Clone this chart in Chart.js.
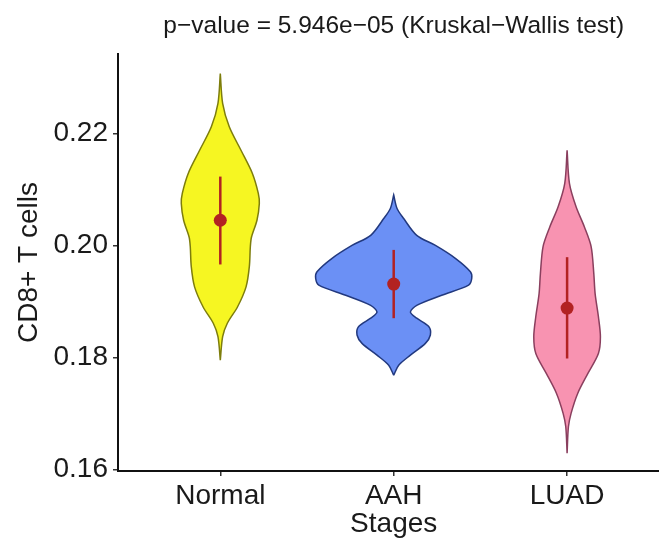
<!DOCTYPE html>
<html>
<head>
<meta charset="utf-8">
<script src="https://cdn.jsdelivr.net/npm/chart.js@4.4.1/dist/chart.umd.min.js"></script>
<style>
  html, body { margin: 0; padding: 0; background: #ffffff; }
  #wrap { width: 659px; height: 540px; }
</style>
</head>
<body>
<div id="wrap"><canvas id="c" width="659" height="540"></canvas></div>
<script>
// Groups along the x axis
const stages = ['Normal', 'AAH', 'LUAD'];
const yTicks = [0.16, 0.18, 0.20, 0.22];

// Kernel density outlines per group: levels (top to bottom) and relative density
const normalLevels  = [0.2307, 0.2254, 0.2212, 0.2170, 0.2129, 0.2093, 0.2075, 0.2045, 0.2015, 0.1998, 0.1962, 0.1926, 0.1890, 0.1861, 0.1837, 0.1795];
const normalDensity = [0.000, 0.030, 0.115, 0.265, 0.410, 0.487, 0.500, 0.470, 0.400, 0.385, 0.372, 0.330, 0.220, 0.090, 0.030, 0.000];

const aahLevels  = [0.2090, 0.2066, 0.2048, 0.2018, 0.2000, 0.1977, 0.1953, 0.1941, 0.1929, 0.1911, 0.1893, 0.1881, 0.1870, 0.1855, 0.1840, 0.1825, 0.1804, 0.1786, 0.1768];
const aahDensity = [0.000, 0.043, 0.128, 0.295, 0.535, 0.790, 0.983, 1.000, 0.960, 0.615, 0.295, 0.214, 0.295, 0.449, 0.470, 0.406, 0.214, 0.064, 0.000];

const luadLevels  = [0.2170, 0.2111, 0.2069, 0.2033, 0.1998, 0.1950, 0.1914, 0.1873, 0.1837, 0.1807, 0.1771, 0.1736, 0.1700, 0.1676, 0.1629];
const luadDensity = [0.000, 0.030, 0.115, 0.222, 0.308, 0.342, 0.359, 0.401, 0.427, 0.401, 0.265, 0.137, 0.051, 0.017, 0.000];

// Mean and mean ± sd per group
const groupMean = [0.2045, 0.1931, 0.1888];
const groupLow  = [0.1966, 0.1870, 0.1798];
const groupHigh = [0.2123, 0.1992, 0.1979];

const pTitle = 'p\u2212value = 5.946e\u221205 (Kruskal\u2212Wallis test)';

const fills   = ['#f6f622', '#6b90f5', '#f893b1'];
const strokes = ['#7d7d0c', '#22397f', '#8a3f5e'];
const meanColor = '#b22222';
const violinHalfWidth = 0.45;

function outline(center, levels, density) {
  const pts = [];
  for (let i = levels.length - 1; i >= 0; i--) {
    pts.push({ x: center + violinHalfWidth * density[i], y: levels[i] });
  }
  for (let i = 0; i < levels.length; i++) {
    pts.push({ x: center - violinHalfWidth * density[i], y: levels[i] });
  }
  pts.push({ x: pts[0].x, y: pts[0].y });
  return pts;
}

const shapes = [
  [normalLevels, normalDensity],
  [aahLevels, aahDensity],
  [luadLevels, luadDensity]
];

const datasets = [];
shapes.forEach((s, i) => {
  datasets.push({
    label: stages[i],
    data: outline(i + 1, s[0], s[1]),
    showLine: true,
    fill: 'shape',
    backgroundColor: fills[i],
    borderColor: strokes[i],
    borderWidth: 1.5,
    tension: 0.3,
    pointRadius: 0,
    order: 3
  });
});
stages.forEach((name, i) => {
  datasets.push({
    label: name + ' sd',
    data: [{ x: i + 1, y: groupLow[i] }, { x: i + 1, y: groupHigh[i] }],
    showLine: true,
    borderColor: meanColor,
    borderWidth: 2.5,
    pointRadius: 0,
    order: 2
  });
});
datasets.push({
  label: 'mean',
  data: groupMean.map((m, i) => ({ x: i + 1, y: m })),
  showLine: false,
  pointRadius: 6.5,
  pointBackgroundColor: meanColor,
  pointBorderColor: meanColor,
  pointBorderWidth: 0,
  order: 1
});

const textColor = '#1a1a1a';
const labelFont = { family: "'Liberation Sans', Arial, sans-serif", size: 28 };

const titlesPlugin = {
  id: 'panelTitles',
  afterDraw(chart) {
    const ctx = chart.ctx;
    const xs = chart.scales.x;
    const cx = xs.getPixelForValue(2);
    ctx.save();
    ctx.fillStyle = textColor;
    ctx.textAlign = 'center';
    ctx.textBaseline = 'alphabetic';
    ctx.font = "24.5px 'Liberation Sans', Arial, sans-serif";
    ctx.fillText(pTitle, cx, 33);
    ctx.font = "28px 'Liberation Sans', Arial, sans-serif";
    ctx.fillText('Stages', cx, 532);
    ctx.restore();
  }
};

new Chart(document.getElementById('c'), {
  type: 'scatter',
  data: { datasets },
  plugins: [titlesPlugin],
  options: {
    responsive: false,
    devicePixelRatio: 1,
    animation: false,
    layout: { autoPadding: false, padding: { left: 0, right: 0, top: 54, bottom: 0 } },
    plugins: { legend: { display: false }, tooltip: { enabled: false } },
    scales: {
      x: {
        type: 'linear',
        min: 0.41,
        max: 3.53,
        afterBuildTicks(scale) { scale.ticks = [1, 2, 3].map(v => ({ value: v })); },
        afterFit(scale) { scale.height = 69; },
        ticks: {
          color: textColor,
          font: labelFont,
          padding: 3,
          maxRotation: 0,
          autoSkip: false,
          callback: (v) => stages[v - 1]
        },
        grid: { display: true, drawOnChartArea: false, drawTicks: true, tickLength: 5, color: '#333333', lineWidth: 1.5 },
        border: { display: true, color: '#111111', width: 2 }
      },
      y: {
        type: 'linear',
        min: 0.1597,
        max: 0.2342,
        afterBuildTicks(scale) { scale.ticks = yTicks.map(v => ({ value: v })); },
        afterFit(scale) { scale.width = 118; },
        ticks: {
          color: textColor,
          font: labelFont,
          padding: 5,
          callback: (v) => v.toFixed(2)
        },
        title: {
          display: true,
          text: 'CD8+ T cells',
          color: textColor,
          font: labelFont,
          padding: { top: 12, bottom: 0 }
        },
        grid: { display: true, drawOnChartArea: false, drawTicks: true, tickLength: 5, color: '#333333', lineWidth: 1.5 },
        border: { display: true, color: '#111111', width: 2 }
      }
    }
  }
});
</script>
</body>
</html>
